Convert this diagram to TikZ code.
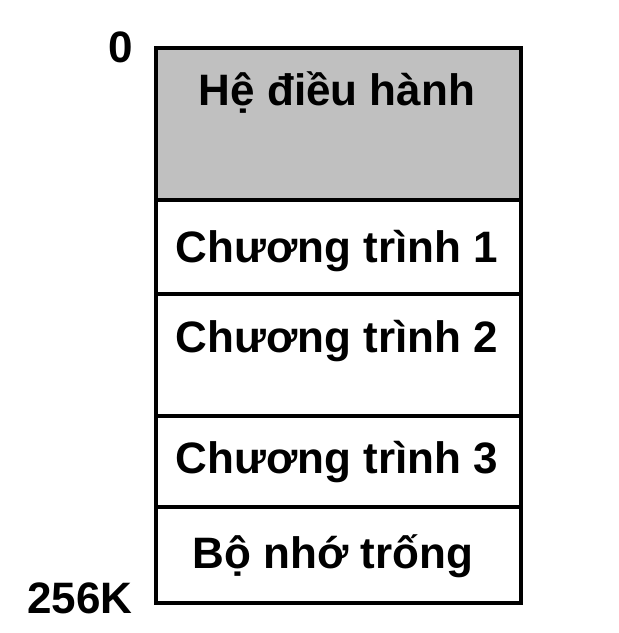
\documentclass[tikz,border=0pt]{standalone}
\usepackage{fontspec}
\setmainfont{Liberation Sans}
\usepackage{tikz}
\usetikzlibrary{positioning}
\definecolor{osgray}{RGB}{192,192,192}

\begin{document}
\begin{tikzpicture}[
  x=0.5pt, y=-0.5pt,
  seg/.style={draw, line width=2pt, outer sep=0pt, fill=white, minimum width=182.5pt, inner sep=0pt},
  txt/.style={font=\fontsize{22}{26}\selectfont\bfseries, anchor=base, inner sep=0pt},
  addr/.style={font=\fontsize{22}{26}\selectfont\bfseries, anchor=base east, inner sep=0pt}
]
\useasboundingbox (0,0) rectangle (618,633);

\node[seg, fill=osgray, minimum height=76pt] (os) at (338.5,124) {};
\node[seg, minimum height=47pt, below=0pt of os] (p1) {};
\node[seg, minimum height=61pt, below=0pt of p1] (p2) {};
\node[seg, minimum height=45.5pt, below=0pt of p2] (p3) {};
\node[seg, minimum height=48pt, below=0pt of p3] (free) {};

\node[txt] (tos) at (337,105) {Hệ điều hành};
\node[txt] (tp1) at (337,262) {Chương trình 1};
\node[txt] (tp2) at (337,352) {Chương trình 2};
\node[txt] (tp3) at (337,473) {Chương trình 3};
\node[txt] (tfree) at (333,568) {Bộ nhớ trống};

\node[addr] (a0) at (133,62) {0};
\node[addr] (a256) at (133,613) {256K};
\end{tikzpicture}
\end{document}
